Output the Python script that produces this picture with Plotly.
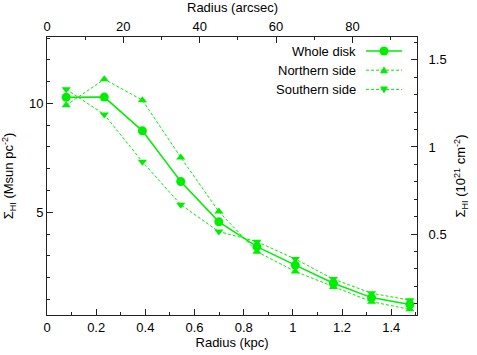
import plotly.graph_objects as go

# radius of each annulus (kpc); the top axis shows the same radius in arcsec
radius_kpc = [0.078, 0.233, 0.388, 0.544, 0.699, 0.854, 1.010, 1.165, 1.320, 1.476]
arcsec_per_kpc = 64.4
msun_to_1e21 = 0.125  # 1 Msun pc^-2 = 1.25e20 cm^-2

whole_disk = [10.28, 10.29, 8.74, 6.41, 4.56, 3.42, 2.57, 1.74, 1.08, 0.76]
northern = [9.91, 11.11, 10.15, 7.52, 5.03, 3.19, 2.28, 1.57, 0.89, 0.54]
southern = [10.65, 9.49, 7.32, 5.35, 4.11, 3.65, 2.85, 1.93, 1.28, 0.96]

x_range = [0, 1.505]
y_range = [0.28, 13.05]

green = "#00ee00"
axis_col = "#222222"
font = dict(family="Liberation Sans, Arial, sans-serif", size=13, color="#000000")

W, H = 477, 355
ML, MR, MT, MB = 47, 60, 37, 40

fig = go.Figure()
fig.add_trace(go.Scatter(x=radius_kpc, y=northern, mode="lines+markers",
                         line=dict(color=green, width=1, dash="3px,2px"),
                         marker=dict(symbol="triangle-up", size=8, color=green),
                         name="Northern side"))
fig.add_trace(go.Scatter(x=radius_kpc, y=southern, mode="lines+markers",
                         line=dict(color=green, width=1, dash="3px,2px"),
                         marker=dict(symbol="triangle-down", size=8, color=green),
                         name="Southern side"))
fig.add_trace(go.Scatter(x=radius_kpc, y=whole_disk, mode="lines+markers",
                         line=dict(color=green, width=1.5),
                         marker=dict(symbol="circle", size=9, color=green),
                         name="Whole disk"))
# same profile on the secondary (arcsec / 1e21 cm^-2) axes, invisible
fig.add_trace(go.Scatter(x=[r * arcsec_per_kpc for r in radius_kpc],
                         y=[v * msun_to_1e21 for v in whole_disk],
                         xaxis="x2", yaxis="y2", mode="lines",
                         line=dict(width=0), opacity=0, hoverinfo="skip"))

ax_common = dict(showline=True, linecolor=axis_col, linewidth=1, mirror=False,
                 ticks="inside", ticklen=6, tickcolor=axis_col, showgrid=False,
                 zeroline=False, tickfont=font, automargin=False)

fig.update_layout(
    width=W, height=H,
    margin=dict(l=ML, r=MR, t=MT, b=MB),
    plot_bgcolor="white", paper_bgcolor="white",
    showlegend=False, font=font,
    xaxis=dict(range=x_range, dtick=0.2, tick0=0,
               minor=dict(dtick=0.1, ticklen=3, ticks="inside", tickcolor=axis_col),
               title=dict(text="Radius (kpc)", font=font, standoff=4), **ax_common),
    xaxis2=dict(range=[x_range[0] * arcsec_per_kpc, x_range[1] * arcsec_per_kpc],
                overlaying="x", side="top", dtick=20, tick0=0,
                minor=dict(dtick=10, ticklen=3, ticks="inside", tickcolor=axis_col),
                **ax_common),
    yaxis=dict(range=y_range, dtick=5, tick0=0,
               minor=dict(dtick=1, ticklen=3, ticks="inside", tickcolor=axis_col),
               title=dict(text="Σ<sub>HI</sub> (Msun pc<sup>-2</sup>)", font=font, standoff=13),
               **ax_common),
    yaxis2=dict(range=[y_range[0] * msun_to_1e21, y_range[1] * msun_to_1e21],
                overlaying="y", side="right", dtick=0.5, tick0=0, ticklabelstandoff=8,
                minor=dict(dtick=0.1, ticklen=3, ticks="inside", tickcolor=axis_col),
                title=dict(text="Σ<sub>HI</sub> (10<sup>21</sup> cm<sup>-2</sup>)", font=font, standoff=10),
                **ax_common),
)

pw, ph = W - ML - MR, H - MT - MB


def px_x(p):
    return (p - ML) / pw


def px_y(p):
    return 1 - (p - MT) / ph


# top axis title
fig.add_annotation(x=0.5, y=px_y(8), xref="paper", yref="paper", text="Radius (arcsec)",
                   showarrow=False, xanchor="center", yanchor="middle", font=font)

# gnuplot-style key: label on the left, sample on the right (pixels)
legend_rows = [("Whole disk", "circle", 1.5),
               ("Northern side", "triangle-up", 1),
               ("Southern side", "triangle-down", 1)]
x0_px, x1_px, xm_px, xt_px = 366, 402, 384, 358

for i, (label, sym, w) in enumerate(legend_rows):
    yp = 51 + i * 19.2
    fig.add_annotation(x=px_x(xt_px), y=px_y(yp), xref="paper", yref="paper",
                       text=label, showarrow=False, xanchor="right", yanchor="middle",
                       font=font)
    fig.add_shape(type="line", xref="paper", yref="paper",
                  x0=px_x(x0_px), x1=px_x(x1_px), y0=px_y(yp), y1=px_y(yp),
                  line=dict(color=green, width=w, dash="solid" if sym == "circle" else "3px,2px"))
    if sym == "circle":
        fig.add_shape(type="circle", xref="paper", yref="paper",
                      x0=px_x(xm_px - 4.5), x1=px_x(xm_px + 4.5),
                      y0=px_y(yp - 4.5), y1=px_y(yp + 4.5),
                      fillcolor=green, line=dict(width=0))
    else:
        s = 1 if sym == "triangle-up" else -1
        path = (f"M {px_x(xm_px - 4)} {px_y(yp + 3 * s)} "
                f"L {px_x(xm_px + 4)} {px_y(yp + 3 * s)} "
                f"L {px_x(xm_px)} {px_y(yp - 4 * s)} Z")
        fig.add_shape(type="path", xref="paper", yref="paper", path=path,
                      fillcolor=green, line=dict(width=0))

# drop the default page margin so the figure fills the window exactly
fig.write_html("out.html", config={"displayModeBar": False},
               post_script="document.body.style.margin='0';")
